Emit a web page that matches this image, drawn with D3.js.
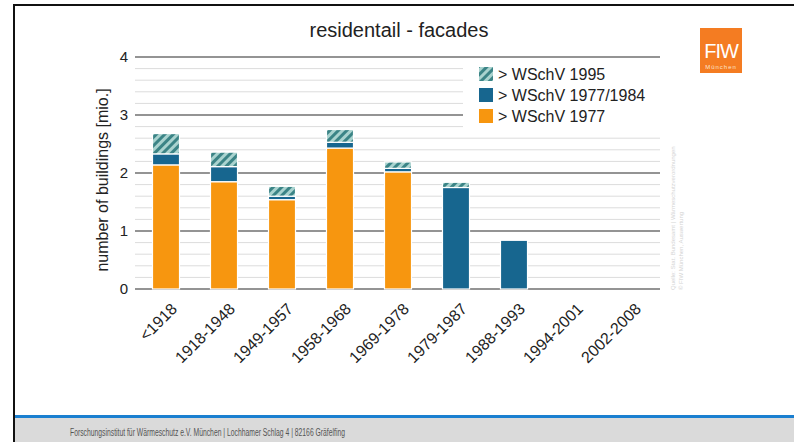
<!DOCTYPE html>
<html>
<head>
<meta charset="utf-8">
<script src="https://cdn.jsdelivr.net/npm/d3@7"></script>
<style>
  body { margin: 0; background: #fff; }
  svg { display: block; font-family: "Liberation Sans", Arial, sans-serif; }
</style>
</head>
<body>
<svg id="chart" width="794" height="442"></svg>
<script>
// data (million buildings)
const periods = ["<1918", "1918-1948", "1949-1957", "1958-1968", "1969-1978", "1979-1987", "1988-1993", "1994-2001", "2002-2008"];
const wschv1977 = [2.14, 1.85, 1.54, 2.43, 2.02, 0, 0, 0, 0];
const wschv1984 = [0.19, 0.26, 0.06, 0.10, 0.06, 1.75, 0.84, 0, 0];
const wschv1995 = [0.35, 0.25, 0.17, 0.22, 0.11, 0.09, 0, 0, 0];
const seriesNames = ["> WSchV 1995", "> WSchV 1977/1984", "> WSchV 1977"];
const yTicks = [0, 1, 2, 3, 4];

var svg = d3.select("#chart");

// slide frame
svg.append("rect").attr("x", 0).attr("y", 0).attr("width", 794).attr("height", 442).attr("fill", "#fff");
svg.append("line").attr("x1", 14).attr("x2", 794).attr("y1", 5).attr("y2", 5).attr("stroke", "#111").attr("stroke-width", 2);
svg.append("line").attr("x1", 14).attr("x2", 14).attr("y1", 4).attr("y2", 442).attr("stroke", "#111").attr("stroke-width", 2);

// footer
svg.append("rect").attr("x", 15).attr("y", 418).attr("width", 779).attr("height", 24).attr("fill", "#dadada");
svg.append("rect").attr("x", 15).attr("y", 415).attr("width", 779).attr("height", 3).attr("fill", "#1a7fd0");
svg.append("text")
  .attr("x", 70).attr("y", 436)
  .attr("font-size", 10)
  .attr("fill", "#555")
  .attr("textLength", 275)
  .attr("lengthAdjust", "spacingAndGlyphs")
  .text("Forschungsinstitut für Wärmeschutz e.V. München | Lochhamer Schlag 4 | 82166 Gräfelfing");

// logo
svg.append("rect").attr("x", 700).attr("y", 28).attr("width", 42).attr("height", 45).attr("fill", "#f47c22");
svg.append("text").attr("x", 721).attr("y", 58).attr("text-anchor", "middle")
  .attr("font-size", 20).attr("fill", "#fff").attr("letter-spacing", -1).text("FIW");
svg.append("text").attr("x", 721).attr("y", 69).attr("text-anchor", "middle")
  .attr("font-size", 6).attr("fill", "#fde3cc").attr("letter-spacing", 1).text("München");

// hatch pattern
var defs = svg.append("defs");
var pat = defs.append("pattern")
  .attr("id", "hatch")
  .attr("patternUnits", "userSpaceOnUse")
  .attr("width", 6).attr("height", 6)
  .attr("patternTransform", "rotate(45)");
pat.append("rect").attr("width", 6).attr("height", 6).attr("fill", "#a9d3cf");
pat.append("rect").attr("width", 3).attr("height", 6).attr("fill", "#3b8486");

var x = d3.scaleBand().domain(periods).range([137, 659]).paddingInner(0.534).paddingOuter(0.267);
var y = d3.scaleLinear().domain([0, 4]).range([289, 57]);

// minor grid
var minor = d3.range(0.2, 4, 0.2).filter(function(v) { return Math.abs(v - Math.round(v)) > 0.01; });
svg.append("g").selectAll("line").data(minor).join("line")
  .attr("x1", 135).attr("x2", 660)
  .attr("y1", function(d) { return y(d); }).attr("y2", function(d) { return y(d); })
  .attr("stroke", "#dcdcdc").attr("stroke-width", 1);

// major grid
svg.append("g").selectAll("line").data(yTicks).join("line")
  .attr("x1", 135).attr("x2", 660)
  .attr("y1", function(d) { return y(d); }).attr("y2", function(d) { return y(d); })
  .attr("stroke", "#707070").attr("stroke-width", 1.5);

// y axis labels
var yAxis = d3.axisLeft(y).tickValues(yTicks).tickSize(0).tickPadding(0).tickFormat(d3.format("d"));
var gy = svg.append("g").attr("transform", "translate(128,0)").call(yAxis);
gy.select(".domain").remove();
gy.selectAll("text").attr("font-size", 15).attr("fill", "#222").attr("font-family", "Liberation Sans, Arial, sans-serif");

svg.append("text")
  .attr("transform", "translate(108,180) rotate(-90)")
  .attr("text-anchor", "middle")
  .attr("font-size", 16).attr("fill", "#222")
  .text("number of buildings [mio.]");

// stacked bars
var table = periods.map(function(p, i) {
  return { period: p, a: wschv1977[i], b: wschv1984[i], c: wschv1995[i] };
});
var stack = d3.stack().keys(["a", "b", "c"])(table);
var fills = { a: "#f7960f", b: "#17668f", c: "url(#hatch)" };

svg.append("g").selectAll("g").data(stack).join("g")
  .attr("fill", function(s) { return fills[s.key]; })
  .selectAll("rect").data(function(s) { return s.filter(function(d) { return d[1] - d[0] > 0; }); })
  .join("rect")
  .attr("x", function(d) { return x(d.data.period); })
  .attr("width", x.bandwidth())
  .attr("y", function(d) { return y(d[1]); })
  .attr("height", function(d) { return y(d[0]) - y(d[1]); })
  .attr("stroke", "#fff").attr("stroke-width", 1.2);

// x axis labels
var gx = svg.append("g").attr("transform", "translate(0,289)")
  .call(d3.axisBottom(x).tickSize(0).tickPadding(0));
gx.select(".domain").remove();
gx.selectAll("text")
  .attr("font-size", 16).attr("fill", "#222").attr("font-family", "Liberation Sans, Arial, sans-serif")
  .attr("text-anchor", "end")
  .attr("dy", "0.35em")
  .attr("transform", "translate(8,17) rotate(-45)");

// legend
var lg = svg.append("g");
lg.append("rect").attr("x", 463).attr("y", 61).attr("width", 199).attr("height", 67).attr("fill", "#fff");
var legendFills = ["url(#hatch)", "#17668f", "#f7960f"];
seriesNames.forEach(function(name, i) {
  lg.append("rect").attr("x", 479).attr("y", 67 + i * 21).attr("width", 14).attr("height", 14)
    .attr("fill", legendFills[i]);
  lg.append("text").attr("x", 498).attr("y", 80 + i * 21)
    .attr("font-size", 16).attr("fill", "#222").text(name);
});

// title
svg.append("text").attr("x", 399).attr("y", 37).attr("text-anchor", "middle")
  .attr("font-size", 20).attr("fill", "#222").text("residentail - facades");

// faint source note on the right
svg.append("text").attr("transform", "translate(675,290) rotate(-90)")
  .attr("font-size", 6).attr("fill", "#d4d4d4")
  .text("Quelle: Stat. Bundesamt | Wärmeschutzverordnungen");
svg.append("text").attr("transform", "translate(683,290) rotate(-90)")
  .attr("font-size", 6).attr("fill", "#d4d4d4")
  .text("© FIW München, Auswertung");
</script>
</body>
</html>
